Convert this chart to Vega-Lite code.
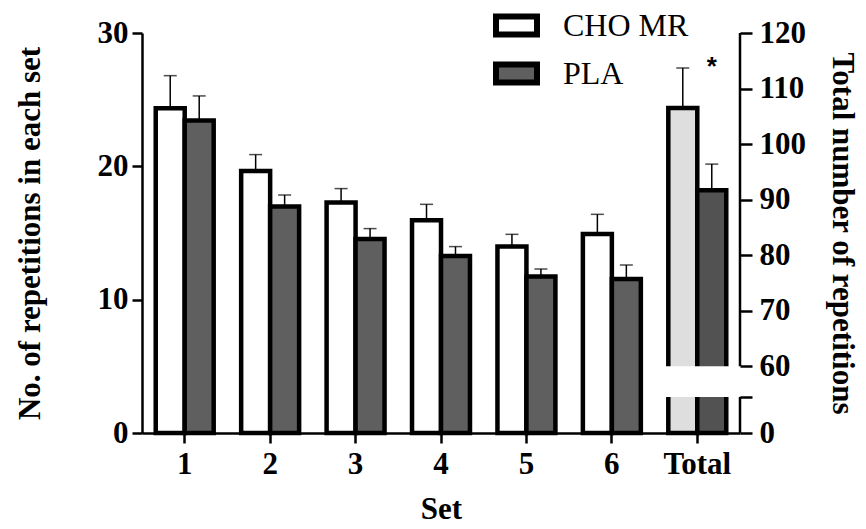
{
  "$schema": "https://vega.github.io/schema/vega-lite/v6.json",
  "width": 598,
  "height": 400,
  "autosize": "none",
  "padding": {"left": 142, "top": 33, "right": 126, "bottom": 96},
  "background": "white",
  "config": {
    "view": {"stroke": null},
    "font": "Liberation Serif",
    "axis": {
      "grid": false,
      "domainColor": "black",
      "domainWidth": 2.5,
      "tickColor": "black",
      "tickWidth": 2.5,
      "labelFont": "Liberation Serif",
      "labelFontWeight": "bold",
      "labelFontSize": 31,
      "labelColor": "black",
      "titleFont": "Liberation Serif",
      "titleFontWeight": "bold",
      "titleFontSize": 31,
      "titleColor": "black"
    },
    "legend": {
      "labelFont": "Liberation Serif",
      "labelFontSize": 32,
      "labelColor": "black",
      "symbolStrokeColor": "black",
      "symbolStrokeWidth": 6,
      "symbolOpacity": 1
    }
  },
  "datasets": {
    "sets": [
      {"set": "1", "group": "CHO MR", "mean": 24.35, "upper": 26.8},
      {"set": "1", "group": "PLA", "mean": 23.43, "upper": 25.28},
      {"set": "2", "group": "CHO MR", "mean": 19.65, "upper": 20.88},
      {"set": "2", "group": "PLA", "mean": 16.98, "upper": 17.85},
      {"set": "3", "group": "CHO MR", "mean": 17.28, "upper": 18.33},
      {"set": "3", "group": "PLA", "mean": 14.55, "upper": 15.33},
      {"set": "4", "group": "CHO MR", "mean": 15.95, "upper": 17.15},
      {"set": "4", "group": "PLA", "mean": 13.28, "upper": 13.98},
      {"set": "5", "group": "CHO MR", "mean": 13.98, "upper": 14.9},
      {"set": "5", "group": "PLA", "mean": 11.73, "upper": 12.3},
      {"set": "6", "group": "CHO MR", "mean": 14.93, "upper": 16.4},
      {"set": "6", "group": "PLA", "mean": 11.55, "upper": 12.6}
    ],
    "totals": [
      {"set": "Total", "group": "CHO MR", "mean": 106.5, "upper": 113.7},
      {"set": "Total", "group": "PLA", "mean": 91.7, "upper": 96.4}
    ],
    "brk": [
      {"set": "Total", "from": 54.5, "to": 60}
    ],
    "axisSeg": [
      {"set": "Total", "lo": 60, "hi": 120},
      {"set": "Total", "lo": 48, "hi": 54.5}
    ],
    "sig": [
      {"set": "Total", "group": "PLA", "y": 113.9, "label": "*"}
    ]
  },
  "layer": [
    {
      "data": {"name": "sets"},
      "encoding": {
        "x": {
          "field": "set", "type": "nominal",
          "scale": {"domain": ["1", "2", "3", "4", "5", "6", "Total"], "paddingInner": 0, "paddingOuter": 0},
          "axis": {"title": "Set", "labelAngle": 0, "tickSize": 10, "labelPadding": 6, "titlePadding": 15}
        },
        "xOffset": {
          "field": "group", "type": "nominal",
          "scale": {"domain": ["CHO MR", "PLA"], "paddingInner": 0, "paddingOuter": 0.474}
        }
      },
      "layer": [
        {
          "mark": {"type": "bar", "stroke": "black", "strokeWidth": 4.5, "opacity": 1},
          "encoding": {
            "y": {
              "field": "mean", "type": "quantitative",
              "scale": {"domain": [0, 30], "nice": false},
              "axis": {"values": [0, 10, 20, 30], "tickSize": 10, "labelPadding": 4, "title": "No. of repetitions in each set", "titlePadding": 51}
            },
            "fill": {
              "field": "group", "type": "nominal",
              "scale": {"domain": ["CHO MR", "PLA"], "range": ["#ffffff", "#5f5f5f"]},
              "legend": {
                "title": null,
                "orient": "none",
                "legendX": 351,
                "legendY": -31,
                "symbolType": "M-1,-0.44H1V0.44H-1Z",
                "symbolSize": 1681,
                "symbolStrokeWidth": 6,
                "symbolStrokeColor": "black",
                "rowPadding": 3,
                "labelOffset": 23
              }
            }
          }
        },
        {
          "mark": {"type": "rule", "color": "black", "strokeWidth": 1.5},
          "encoding": {
            "y": {"field": "mean", "type": "quantitative"},
            "y2": {"field": "upper"}
          }
        },
        {
          "mark": {"type": "tick", "color": "black", "thickness": 1.5, "size": 13, "orient": "horizontal"},
          "encoding": {
            "y": {"field": "upper", "type": "quantitative"}
          }
        }
      ]
    },
    {
      "encoding": {
        "x": {
          "field": "set", "type": "nominal",
          "scale": {"domain": ["1", "2", "3", "4", "5", "6", "Total"], "paddingInner": 0, "paddingOuter": 0}
        }
      },
      "layer": [
        {
          "data": {"name": "totals"},
          "mark": {"type": "bar", "stroke": "black", "strokeWidth": 4.5, "opacity": 1},
          "encoding": {
            "xOffset": {
              "field": "group", "type": "nominal",
              "scale": {"domain": ["CHO MR", "PLA"], "paddingInner": 0, "paddingOuter": 0.474}
            },
            "y": {
              "field": "mean", "type": "quantitative",
              "scale": {"domain": [48, 120], "nice": false, "zero": false},
              "axis": {
                "orient": "right",
                "values": [48, 54.5, 60, 70, 80, 90, 100, 110, 120],
                "labelExpr": "datum.value == 48 ? '0' : (datum.value == 54.5 ? '' : datum.label)",
                "domain": false,
                "tickSize": 12,
                "labelPadding": 7,
                "title": "Total number of repetitions",
                "titlePadding": 20
              }
            },
            "y2": {"datum": 48},
            "fill": {
              "field": "group", "type": "nominal",
              "scale": {"domain": ["CHO MR", "PLA"], "range": ["#dedede", "#525252"]},
              "legend": null
            }
          }
        },
        {
          "data": {"name": "brk"},
          "mark": {"type": "rect", "fill": "white", "stroke": null},
          "encoding": {
            "y": {"field": "from", "type": "quantitative"},
            "y2": {"field": "to"}
          }
        },
        {
          "data": {"name": "axisSeg"},
          "mark": {"type": "rule", "color": "black", "strokeWidth": 2.5},
          "encoding": {
            "x": {"field": "set", "type": "nominal", "bandPosition": 1},
            "y": {"field": "lo", "type": "quantitative"},
            "y2": {"field": "hi"}
          }
        },
        {
          "data": {"name": "totals"},
          "mark": {"type": "rule", "color": "black", "strokeWidth": 1.5},
          "encoding": {
            "xOffset": {"field": "group", "type": "nominal"},
            "y": {"field": "mean", "type": "quantitative"},
            "y2": {"field": "upper"}
          }
        },
        {
          "data": {"name": "totals"},
          "mark": {"type": "tick", "color": "black", "thickness": 1.5, "size": 13, "orient": "horizontal"},
          "encoding": {
            "xOffset": {"field": "group", "type": "nominal"},
            "y": {"field": "upper", "type": "quantitative"}
          }
        },
        {
          "data": {"name": "sig"},
          "mark": {"type": "text", "font": "Liberation Sans", "fontWeight": "bold", "fontSize": 26, "baseline": "middle", "align": "center", "color": "black"},
          "encoding": {
            "xOffset": {"field": "group", "type": "nominal"},
            "y": {"field": "y", "type": "quantitative"},
            "text": {"field": "label"}
          }
        }
      ]
    }
  ],
  "resolve": {"scale": {"y": "independent", "fill": "independent"}, "axis": {"y": "independent"}}
}
